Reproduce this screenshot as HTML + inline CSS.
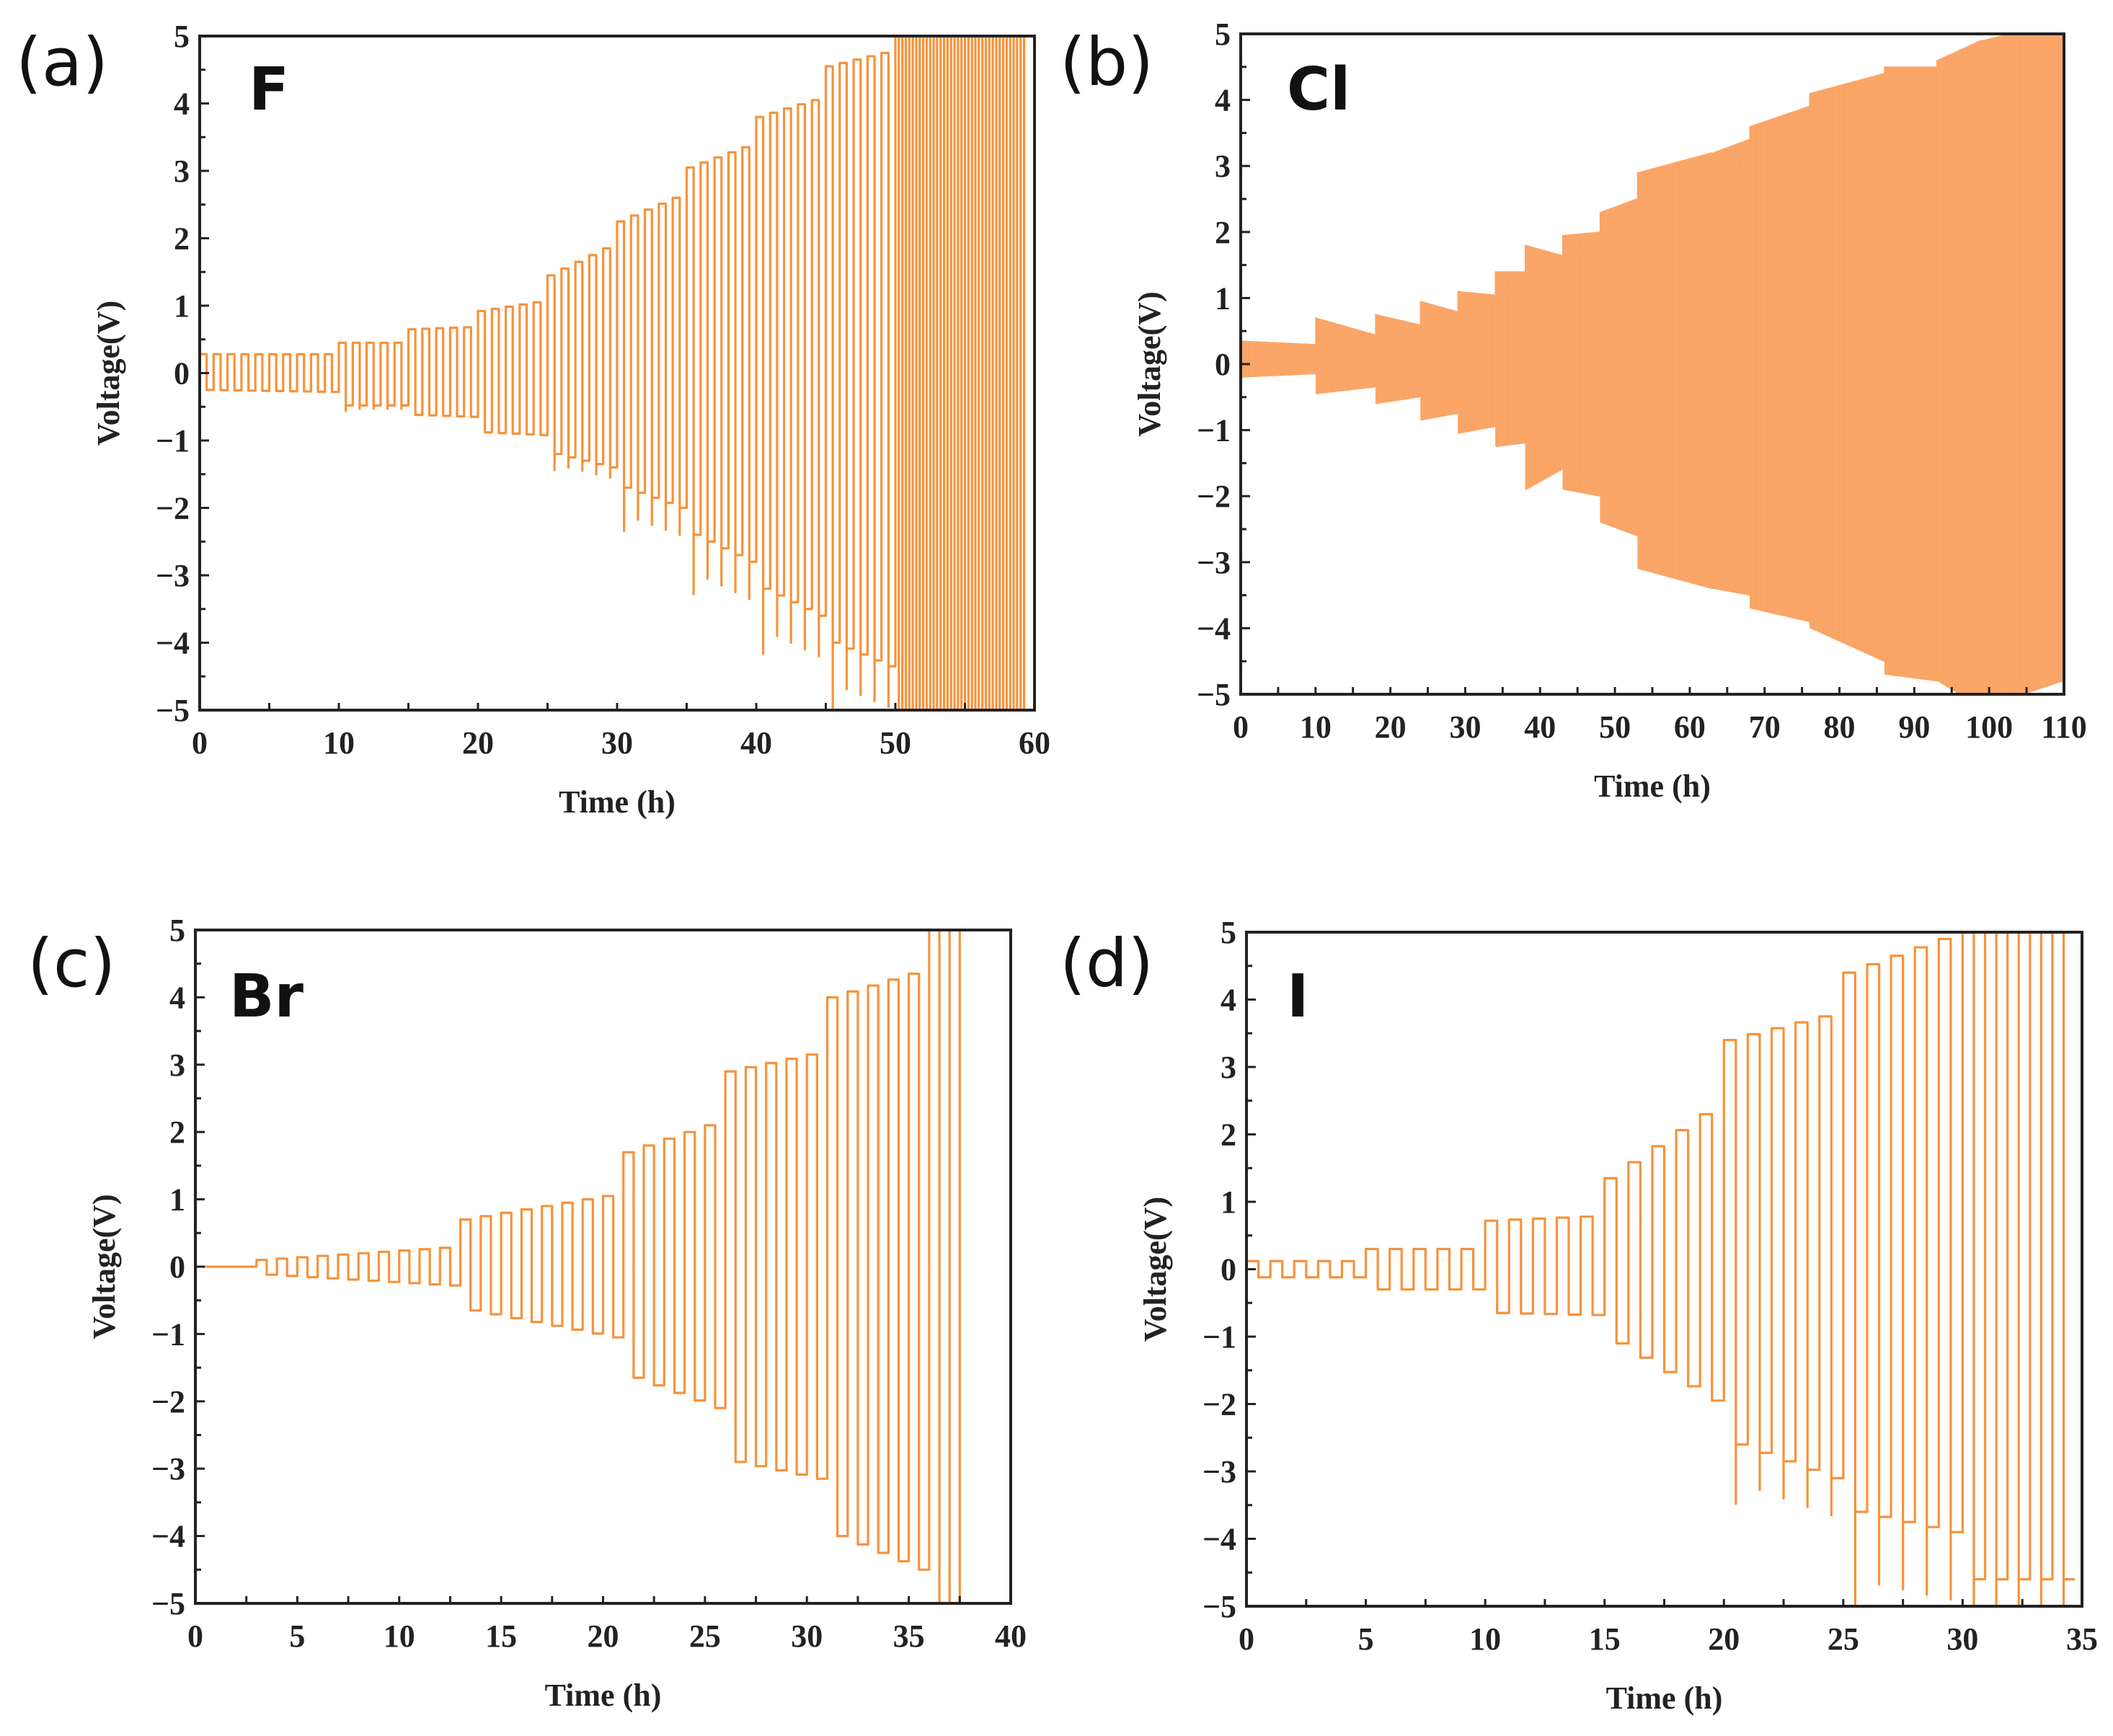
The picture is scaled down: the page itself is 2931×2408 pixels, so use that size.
<!DOCTYPE html>
<html><head><meta charset="utf-8">
<style>
html,body{margin:0;padding:0;background:#fff;}
svg{display:block;}
.tick{font-family:"Liberation Serif",serif;font-weight:bold;font-size:44px;fill:#222;}
.axt{font-family:"Liberation Serif",serif;font-weight:bold;font-size:44px;fill:#222;}
.plab{font-family:"DejaVu Sans","Liberation Sans",sans-serif;font-size:92px;fill:#111;}
.elab{font-family:"DejaVu Sans","Liberation Sans",sans-serif;font-weight:bold;font-size:82px;fill:#111;}
</style></head>
<body>
<svg id="fig" width="2931" height="2408" viewBox="0 0 2931 2408" xmlns="http://www.w3.org/2000/svg"></svg>
<script>
// ---- Panel (a) F data ----
const aStart=[0,10,15,20,25,30,35,40,45,50];
const aEnd=[10,15,20,25,30,35,40,45,50,59.5];
const aCycles=[10,5,5,5,5,5,5,5,5,19];
const aHi0=[0.28,0.45,0.65,0.92,1.45,2.25,3.05,3.8,4.55,5.6];
const aHi1=[0.28,0.45,0.68,1.05,1.85,2.6,3.35,4.05,4.75,5.6];
const aLo0=[-0.25,-0.48,-0.62,-0.88,-1.2,-1.7,-2.4,-3.2,-4.0,-5.6];
const aLo1=[-0.28,-0.48,-0.65,-0.92,-1.4,-2.0,-2.8,-3.6,-4.35,-5.6];
const aSpike=[0,-0.05,0,0,-0.15,-0.4,-0.55,-0.6,-0.6,0];
// ---- Panel (b) Cl data ----
const bStart=[0,10,18,24,29,34,38,43,48,53,63,68,76,86,93,99];
const bEnd=[10,18,24,29,34,38,43,48,53,63,68,76,86,93,99,110];
const bCycles=[40,32,24,20,20,16,20,20,20,40,20,32,40,28,24,44];
const bHi0=[0.35,0.7,0.75,0.95,1.1,1.4,1.8,1.95,2.3,2.9,3.2,3.6,4.1,4.5,4.6,4.9];
const bHi1=[0.3,0.45,0.6,0.8,1.05,1.4,1.65,2.0,2.5,3.2,3.4,3.9,4.4,4.5,4.9,5.2];
const bLo0=[-0.2,-0.45,-0.6,-0.85,-1.05,-1.25,-1.9,-1.9,-2.4,-3.1,-3.4,-3.7,-4.0,-4.7,-4.8,-5.2];
const bLo1=[-0.15,-0.35,-0.5,-0.75,-0.95,-1.2,-1.6,-2.0,-2.6,-3.4,-3.5,-3.9,-4.5,-4.8,-5.2,-4.8];
const bSpike=[0,0,0,0,0,0,0,0,0,0,0,0,0,0,0,0];
// ---- Panel (c) Br data ----
const cStart=[0,3,13,21,26,31,36];
const cEnd=[3,13,21,26,31,36,38];
const cCycles=[0,10,8,5,5,5,2];
const cHi0=[0,0.1,0.7,1.7,2.9,4.0,5.6];
const cHi1=[0,0.28,1.05,2.1,3.15,4.35,5.6];
const cLo0=[0,-0.12,-0.65,-1.65,-2.9,-4.0,-5.6];
const cLo1=[0,-0.28,-1.05,-2.1,-3.15,-4.5,-5.6];
const cSpike=[0,0,0,0,0,0,0];
// ---- Panel (d) I data ----
const dStart=[0,5,10,15,20,25,30];
const dEnd=[5,10,15,20,25,30,34.7];
const dCycles=[5,5,5,5,5,5,5];
const dHi0=[0.12,0.3,0.72,1.35,3.4,4.4,5.6];
const dHi1=[0.12,0.3,0.78,2.3,3.75,4.9,5.6];
const dLo0=[-0.12,-0.3,-0.65,-1.1,-2.6,-3.6,-4.6];
const dLo1=[-0.12,-0.3,-0.68,-1.95,-3.1,-3.9,-4.6];
const dSpike=[0,0,0,0,-0.55,-1.0,-0.45];
// ---- Tick labels ----
const yTicks=[-5,-4,-3,-2,-1,0,1,2,3,4,5];
const aXTicks=[0,10,20,30,40,50,60];
const bXTicks=[0,10,20,30,40,50,60,70,80,90,100,110];
const cXTicks=[0,5,10,15,20,25,30,35,40];
const dXTicks=[0,5,10,15,20,25,30,35];

const NS="http://www.w3.org/2000/svg";
const fig=document.getElementById('fig');
function mk(tag,attrs,parent){const e=document.createElementNS(NS,tag);for(const k in attrs)e.setAttribute(k,attrs[k]);(parent||fig).appendChild(e);return e;}

function panel(id,box,xmax,xTicks,xMinorStep,S,label,elem,labPos,elemPos,dense){
  const g=mk('g',{});
  
  
  const [L,T,R,B]=box;
  const xs=v=>L+(v/xmax)*(R-L);
  const ys=v=>B-((v+5)/10)*(B-T);
  const clipId='clip-'+id;
  const cp=mk('clipPath',{id:clipId},g); mk('rect',{x:L,y:T,width:R-L,height:B-T},cp);
  const st=S.start,en=S.end,cy=S.cycles;
  let d='';
  let fillPts=[];
  for(let i=0;i<st.length;i++){
    const n=cy[i];
    if(n===0){ d+=(d?'L':'M')+xs(st[i])+' '+ys(0)+' L'+xs(en[i])+' '+ys(0)+' '; continue;}
    const p=(en[i]-st[i])/n;
    for(let k=0;k<n;k++){
      const f=n>1?k/(n-1):0;
      const hi=S.hi0[i]+(S.hi1[i]-S.hi0[i])*f;
      const lo=S.lo0[i]+(S.lo1[i]-S.lo0[i])*f;
      const t0=st[i]+k*p, tm=t0+p/2, t1=t0+p;
      d+=(d?'L':'M')+xs(t0)+' '+ys(hi)+' L'+xs(tm)+' '+ys(hi)+' ';
      if(S.spike[i]<0 && k>0){ d+='L'+xs(tm)+' '+ys(lo+S.spike[i])+' L'+xs(tm)+' '+ys(lo)+' ';}
      else if(S.spike[i]<0 && k===0){ d+='L'+xs(tm)+' '+ys(lo+S.spike[i]*1.6)+' L'+xs(tm)+' '+ys(lo)+' ';}
      d+='L'+xs(tm)+' '+ys(lo)+' L'+xs(t1)+' '+ys(lo)+' ';
      fillPts.push([t0,hi,lo],[t1,hi,lo]);
    }
  }
  const sg=mk('g',{'clip-path':'url(#'+clipId+')'},g);
  
  
  if(dense){
    let pd='M'+fillPts.map(q=>xs(q[0])+' '+ys(q[1])).join(' L')+' L'+fillPts.slice().reverse().map(q=>xs(q[0])+' '+ys(q[2])).join(' L')+'Z';
    const fp=mk('path',{d:pd,fill:'#fbb27a',stroke:'none'},sg);
    
    
  }
  const line=mk('path',{d:d,fill:'none',stroke:dense?'#f9a262':'#f7923a','stroke-width':dense?1:3.2,'stroke-linejoin':'round'},sg);
  
  
  const fr=mk('rect',{x:L,y:T,width:R-L,height:B-T,fill:'none',stroke:'#222','stroke-width':4},g);
  
  
  for(let v=-5;v<=5.001;v+=0.5){
    const y=ys(v), major=Math.abs(v-Math.round(v))<1e-6;
    mk('line',{x1:L,x2:L+(major?13:8),y1:y,y2:y,stroke:'#222','stroke-width':3},g);
  }
  yTicks.forEach(v=>{
    const t=mk('text',{x:L-14,y:ys(v)+15,'text-anchor':'end','class':'tick'},g);
    t.textContent=(v<0?'\u2212'+Math.abs(v):String(v));
    
    
  });
  for(let v=0;v<=xmax+1e-6;v+=xMinorStep){
    const x=xs(v);
    mk('line',{x1:x,x2:x,y1:B,y2:B-10,stroke:'#222','stroke-width':3},g);
  }
  xTicks.forEach(v=>{
    const t=mk('text',{x:xs(v),y:B+60,'text-anchor':'middle','class':'tick'},g);
    t.textContent=String(v);
    
    
  });
  const xt=mk('text',{x:(L+R)/2,y:B+142,'text-anchor':'middle','class':'axt'},g);
  xt.textContent='Time (h)';
  
  
  const yx=L-112, yy=(T+B)/2;
  const yt=mk('text',{x:yx,y:yy,'text-anchor':'middle','class':'axt',transform:'rotate(-90 '+yx+' '+yy+')'},g);
  yt.textContent='Voltage(V)';
  
  
  const pl=mk('text',{x:labPos[0],y:labPos[1],'class':'plab'},g);
  pl.textContent=label;
  
  
  const el=mk('text',{x:elemPos[0],y:elemPos[1],'class':'elab'},g);
  el.textContent=elem;
  
  
}

panel('a',[277,50,1435,985],60,aXTicks,5,{start:aStart,end:aEnd,cycles:aCycles,hi0:aHi0,hi1:aHi1,lo0:aLo0,lo1:aLo1,spike:aSpike},'(a)','F',[22,118],[345,152],false);
panel('b',[1721,47,2863,963],110,bXTicks,5,{start:bStart,end:bEnd,cycles:bCycles,hi0:bHi0,hi1:bHi1,lo0:bLo0,lo1:bLo1,spike:bSpike},'(b)','Cl',[1470,118],[1785,152],true);
panel('c',[271,1290,1402,2224],40,cXTicks,2.5,{start:cStart,end:cEnd,cycles:cCycles,hi0:cHi0,hi1:cHi1,lo0:cLo0,lo1:cLo1,spike:cSpike},'(c)','Br',[38,1368],[318,1410],false);
panel('d',[1729,1293,2888,2228],35,dXTicks,2.5,{start:dStart,end:dEnd,cycles:dCycles,hi0:dHi0,hi1:dHi1,lo0:dLo0,lo1:dLo1,spike:dSpike},'(d)','I',[1470,1368],[1785,1410],false);
</script>
</body></html>
